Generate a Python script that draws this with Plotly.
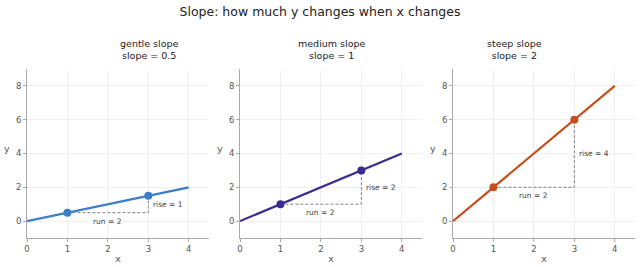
import plotly.graph_objects as go

# data
slopes = [0.5, 1, 2]
titles = ["gentle slope<br>slope = 0.5", "medium slope<br>slope = 1", "steep slope<br>slope = 2"]
colors = ["#3a7ec8", "#3b2a90", "#c44f1c"]
line_x = [0, 4]
pt_x = [1, 3]
run_labels = ["run = 2", "run = 2", "run = 2"]
rise_labels = ["rise = 1", "rise = 2", "rise = 4"]
x_ticks = [0, 1, 2, 3, 4]
y_ticks = [0, 2, 4, 6, 8]

W, H = 640, 267
ml, mr, mt, mb = 27, 5, 69, 29
pw = W - ml - mr
doms_px = [(27, 209), (240, 422), (453, 635)]
ydom = [0, 1]

fig = go.Figure()
FONT = "DejaVu Sans"
grey = "#555555"

for i, s in enumerate(slopes):
    n = "" if i == 0 else str(i + 1)
    xa, ya = "x" + n, "y" + n
    c = colors[i]
    ly = [s * v for v in line_x]
    py = [s * v for v in pt_x]
    # dashed run/rise
    fig.add_trace(go.Scatter(x=[pt_x[0], pt_x[1], pt_x[1]], y=[py[0], py[0], py[1]],
                             mode="lines", line=dict(color="#808080", width=1, dash="3px,2px"),
                             xaxis=xa, yaxis=ya, showlegend=False, hoverinfo="skip"))
    fig.add_trace(go.Scatter(x=line_x, y=ly, mode="lines", line=dict(color=c, width=2.2),
                             xaxis=xa, yaxis=ya, showlegend=False))
    fig.add_trace(go.Scatter(x=pt_x, y=py, mode="markers", marker=dict(color=c, size=8),
                             xaxis=xa, yaxis=ya, showlegend=False))
    d0 = (doms_px[i][0] - ml) / pw
    d1 = (doms_px[i][1] - ml) / pw
    fig.layout["xaxis" + n] = dict(domain=[d0, d1], range=[0, 4.5], tickvals=x_ticks,
                                   showgrid=True, gridcolor="#efefef", gridwidth=1,
                                   zeroline=False, showline=True, linecolor="#aaaaaa", linewidth=1,
                                   ticks="outside", ticklen=3, tickcolor="#aaaaaa",
                                   tickfont=dict(size=8.5, color=grey, family=FONT),
                                   title=dict(text="x", font=dict(size=9.5, color=grey, family=FONT), standoff=2),
                                   anchor=ya)
    fig.layout["yaxis" + n] = dict(domain=ydom, range=[-1, 9], tickvals=y_ticks,
                                   showgrid=True, gridcolor="#efefef", gridwidth=1,
                                   zeroline=False, showline=True, linecolor="#aaaaaa", linewidth=1,
                                   ticks="outside", ticklen=3, tickcolor="#aaaaaa",
                                   tickfont=dict(size=8.5, color=grey, family=FONT),
                                   anchor=xa)
    # horizontal y-axis label
    fig.add_annotation(x=d0, y=4.3, xref="paper", yref=ya, text="y", showarrow=False,
                       xanchor="center", xshift=-20,
                       font=dict(size=9.5, color=grey, family=FONT))
    fig.add_annotation(x=(pt_x[0] + pt_x[1]) / 2, y=py[0], xref=xa, yref=ya, text=run_labels[i],
                       showarrow=False, yanchor="top", yshift=-2,
                       font=dict(size=7.5, color="#444444", family=FONT))
    fig.add_annotation(x=pt_x[1], y=(py[0] + py[1]) / 2, xref=xa, yref=ya, text=rise_labels[i],
                       showarrow=False, xanchor="left", xshift=3,
                       font=dict(size=7.5, color="#444444", family=FONT))
    fig.add_annotation(x=(d0 + d1) / 2, y=1, xref="paper", yref="paper", yshift=6,
                       text=titles[i], showarrow=False, yanchor="bottom",
                       font=dict(size=9.5, color="#222222", family=FONT))

fig.update_layout(
    width=W, height=H,
    margin=dict(l=ml, r=mr, t=mt, b=mb),
    paper_bgcolor="white", plot_bgcolor="white",
    title=dict(text="Slope: how much y changes when x changes", x=0.5, xanchor="center",
               y=1 - 12 / H, yanchor="middle", font=dict(size=12.5, color="#222222", family=FONT)),
    font=dict(family=FONT),
)

fig.write_html("out.html")
